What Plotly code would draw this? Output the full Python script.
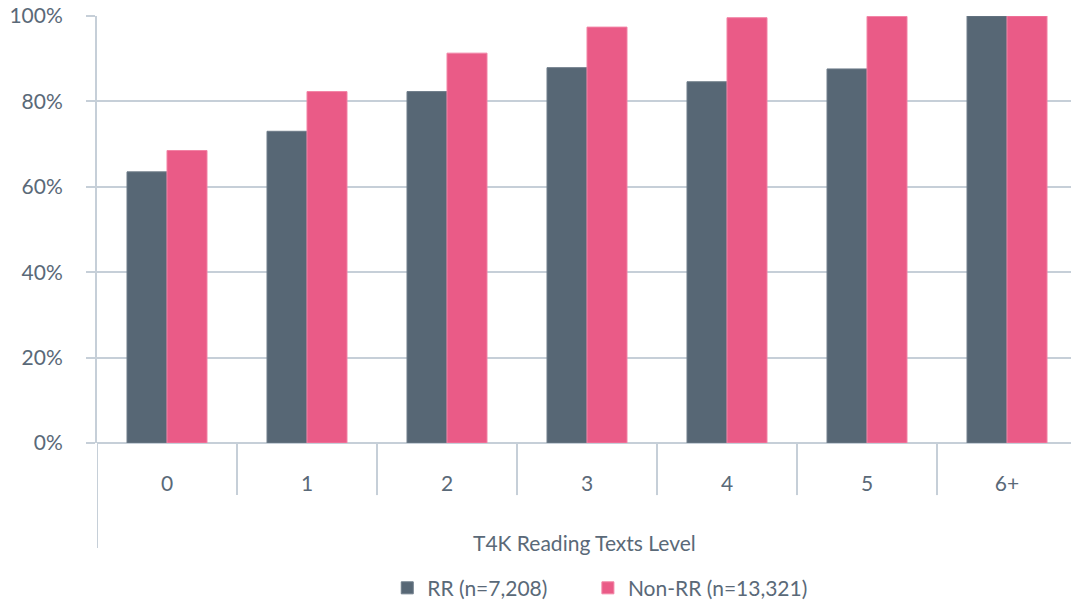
import plotly.graph_objects as go

# Share of students by T4K reading text level
levels = ["0", "1", "2", "3", "4", "5", "6+"]
rr_values = [0.635, 0.730, 0.823, 0.879, 0.846, 0.876, 1.000]
non_rr_values = [0.685, 0.823, 0.913, 0.974, 0.996, 0.999, 1.000]
series_names = ["RR (n=7,208)", "Non-RR (n=13,321)"]
y_ticks = [0, 0.2, 0.4, 0.6, 0.8, 1.0]

FONT = "Lato"
TEXT = "#5A6978"
LINE = "#C6CFD8"
FS = 21

fig = go.Figure()
fig.add_trace(go.Bar(
    x=levels, y=rr_values, name=series_names[0], legend="legend",
    marker=dict(color="#576775", line=dict(color="#6E7C89", width=1)),
))
fig.add_trace(go.Bar(
    x=levels, y=non_rr_values, name=series_names[1], legend="legend2",
    marker=dict(color="#EA5B87", line=dict(color="#F283A5", width=1)),
))

# category divider lines below the axis
shapes = []
for i in range(len(levels) - 1):
    shapes.append(dict(type="line", xref="x", yref="paper",
                       x0=i + 0.5, x1=i + 0.5, y0=0, y1=-0.122,
                       line=dict(color=LINE, width=2)))
shapes.append(dict(type="line", xref="x", yref="paper",
                   x0=-0.5, x1=-0.5, y0=0, y1=-0.246,
                   line=dict(color=LINE, width=2)))

legend_style = dict(orientation="h", y=-0.34, yanchor="middle", xanchor="left",
                    font=dict(family=FONT, size=FS, color=TEXT),
                    bgcolor="rgba(0,0,0,0)")

fig.update_layout(
    width=1071, height=603,
    margin=dict(l=97, r=0, t=16, b=160, autoexpand=False),
    paper_bgcolor="white", plot_bgcolor="white",
    barmode="group", bargap=0.4286, bargroupgap=0,
    font=dict(family=FONT, size=FS, color=TEXT),
    shapes=shapes,
    showlegend=True,
    legend=dict(x=0.298, **legend_style),
    legend2=dict(x=0.504, **legend_style),
    annotations=[dict(text="T4K Reading Texts Level", xref="paper", yref="paper",
                      x=0.5, y=-0.232, xanchor="center", yanchor="middle",
                      showarrow=False, font=dict(family=FONT, size=FS, color=TEXT))],
)
fig.update_xaxes(
    type="category", range=[-0.5, 6.457],
    showline=False, showgrid=False, ticks="",
    ticklabelstandoff=26,
    tickfont=dict(family=FONT, size=FS, color=TEXT),
)
fig.update_yaxes(
    range=[0, 1], tickvals=y_ticks, tickformat=".0%",
    showgrid=True, gridcolor=LINE, gridwidth=2,
    zeroline=True, zerolinecolor=LINE, zerolinewidth=2,
    showline=True, linecolor=LINE, linewidth=2,
    ticks="outside", ticklen=9, tickcolor=LINE, tickwidth=2,
    ticklabelstandoff=19,
    tickfont=dict(family=FONT, size=FS, color=TEXT),
)

fig.write_html("out.html")
